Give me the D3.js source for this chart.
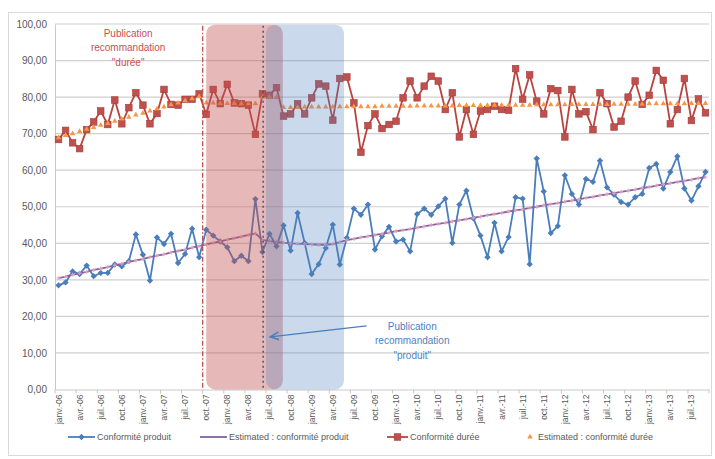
<!DOCTYPE html>
<html>
<head>
<meta charset="utf-8">
<script src="https://cdn.jsdelivr.net/npm/d3@7"></script>
<style>
  body { margin: 0; background: #fff; }
  svg { font-family: "Liberation Sans", Arial, sans-serif; }
</style>
</head>
<body>
<div id="chart"></div>
<script>
// month labels (Excel french short format)
var monthNames = ["janv.", "févr.", "mars", "avr.", "mai", "juin", "juil.", "août", "sept.", "oct.", "nov.", "déc."];
var years = ["06", "07", "08", "09", "10", "11", "12", "13"];
var categories = [];
years.forEach(function (y) {
    monthNames.forEach(function (m) { categories.push(m + "-" + y); });
});
categories = categories.slice(0, 93); // janv.-06 .. sept.-13

var yTicks = [0, 10, 20, 30, 40, 50, 60, 70, 80, 90, 100];

var produit = [28.5, 29.3, 32.3, 31.6, 33.9, 31.0, 31.9, 31.9, 34.2, 33.7,
    35.1, 42.4, 36.9, 29.8, 41.6, 39.8, 42.6, 34.6, 37.1, 44.0,
    36.2, 43.7, 42.1, 40.5, 38.9, 35.1, 36.6, 35.1, 52.1, 37.6,
    42.6, 39.2, 44.9, 38.0, 48.3, 40.1, 31.6, 34.3, 38.7, 45.1,
    34.2, 41.5, 49.5, 47.8, 50.6, 38.3, 41.9, 44.5, 40.5, 41.0,
    37.8, 48.0, 49.5, 47.8, 50.1, 52.2, 40.1, 50.6, 54.4, 46.8,
    42.1, 36.2, 45.6, 37.8, 41.7, 52.6, 52.2, 34.3, 63.2, 54.2,
    42.8, 44.7, 58.6, 53.5, 50.6, 57.6, 56.8, 62.6, 55.3, 53.3,
    51.3, 50.6, 52.6, 53.5, 60.6, 61.7, 55.0, 59.5, 63.8, 55.0,
    51.7, 55.6, 59.5];

var estProduit = [30.5, 30.9, 31.4, 31.8, 32.2, 32.7, 33.1, 33.5, 34.0, 34.4,
    34.9, 35.3, 35.7, 36.2, 36.6, 37.0, 37.5, 37.9, 38.3, 38.8,
    39.2, 39.7, 40.1, 40.5, 41.0, 41.4, 41.8, 42.3, 42.7, 40.9,
    40.6, 40.4, 40.2, 40.0, 39.9, 39.8, 39.7, 39.6, 39.6, 39.8,
    40.3, 40.9, 41.2, 41.6, 41.9, 42.3, 42.6, 42.9, 43.3, 43.6,
    43.9, 44.3, 44.6, 45.0, 45.3, 45.6, 46.0, 46.3, 46.6, 47.0,
    47.3, 47.7, 48.0, 48.3, 48.7, 49.0, 49.3, 49.7, 50.0, 50.4,
    50.7, 51.0, 51.4, 51.7, 52.0, 52.4, 52.7, 53.1, 53.4, 53.7,
    54.1, 54.4, 54.7, 55.1, 55.4, 55.8, 56.1, 56.4, 56.8, 57.1,
    57.4, 57.8, 58.1];

var duree = [68.4, 70.9, 67.5, 65.9, 71.1, 73.2, 76.2, 72.5, 79.2, 72.7,
    77.1, 81.2, 77.8, 72.7, 75.5, 82.1, 78.0, 77.8, 79.4, 79.4,
    80.9, 75.3, 82.1, 78.2, 83.5, 78.4, 78.2, 77.8, 69.8, 80.9,
    80.5, 82.6, 74.8, 75.4, 78.2, 75.4, 79.8, 83.6, 83.0, 73.7,
    85.1, 85.5, 78.4, 64.9, 72.2, 75.4, 71.4, 72.5, 73.4, 79.8,
    84.4, 79.8, 83.0, 85.7, 84.4, 76.6, 81.2, 69.1, 76.6, 69.8,
    76.2, 76.6, 77.5, 76.6, 76.4, 87.8, 79.4, 86.1, 78.9, 75.4,
    82.3, 81.8, 69.1, 82.1, 75.4, 76.0, 71.1, 81.2, 78.2, 71.8,
    73.4, 80.0, 84.4, 78.0, 80.5, 87.3, 84.6, 72.7, 76.6, 85.1,
    73.6, 79.5, 75.7];

var estDuree = [68.9, 69.5, 70.0, 70.6, 71.2, 71.7, 72.3, 72.8, 73.4, 74.0,
    74.5, 75.1, 75.6, 76.2, 76.8, 77.3, 77.9, 78.4, 79.0, 79.6,
    80.1, 78.4, 78.4, 78.3, 78.3, 78.3, 78.2, 78.2, 78.2, 80.0,
    80.0, 79.9, 77.2, 77.2, 77.2, 77.3, 77.3, 77.3, 77.3, 77.3,
    77.4, 77.4, 77.4, 77.4, 77.4, 77.4, 77.5, 77.5, 77.5, 77.5,
    77.5, 77.6, 77.6, 77.6, 77.6, 77.6, 77.6, 77.7, 77.7, 77.7,
    77.7, 77.7, 77.8, 77.8, 77.8, 77.8, 77.8, 77.8, 77.9, 77.9,
    77.9, 77.9, 77.9, 78.0, 78.0, 78.0, 78.0, 78.0, 78.0, 78.1,
    78.1, 78.1, 78.1, 78.1, 78.2, 78.2, 78.2, 78.2, 78.2, 78.2,
    78.3, 78.3, 78.3];

var legendNames = ["Conformité produit", "Estimated : conformité produit", "Conformité durée", "Estimated : conformité durée"];

var W = 715, H = 459;
var margin = { top: 24, right: 6, bottom: 69.5, left: 55 };
var width = W - margin.left - margin.right,
    height = H - margin.top - margin.bottom;

var svg = d3.select("#chart")
    .append("svg")
    .attr("width", W)
    .attr("height", H);

// chart frame
svg.append("rect")
    .attr("x", 8.5).attr("y", 12.5)
    .attr("width", 703).attr("height", 443)
    .attr("fill", "none")
    .attr("stroke", "#d9d9d9");

var g = svg.append("g")
    .attr("transform", "translate(" + margin.left + "," + margin.top + ")");

var x = d3.scaleBand()
    .domain(categories)
    .range([0, width])
    .padding(0);
// continuous helper on the same axis (month index) for annotations
var xi = d3.scaleLinear()
    .domain([0, categories.length])
    .range([0, width]);
var cx = function (i) { return x(categories[i]) + x.bandwidth() / 2; };

var y = d3.scaleLinear()
    .domain([0, 100])
    .range([height, 0]);

// gridlines
g.append("g")
    .selectAll("line")
    .data(yTicks.filter(function (d) { return d > 0; }))
    .enter()
    .append("line")
    .attr("x1", 0).attr("x2", width)
    .attr("y1", function (d) { return y(d); })
    .attr("y2", function (d) { return y(d); })
    .attr("stroke", "#d0d0d0")
    .attr("stroke-width", 1.2);

// Y axis
var yAxis = g.append("g")
    .call(d3.axisLeft(y).tickValues(yTicks).tickSize(0).tickPadding(8)
        .tickFormat(function (d) { return d3.format(".2f")(d).replace(".", ","); }));
yAxis.select(".domain").attr("stroke", "#c8c8c8");
yAxis.selectAll("text").attr("font-size", 10).attr("fill", "#595959")
    .attr("font-family", "Liberation Sans, Arial, sans-serif");

// X axis
var xAxis = g.append("g")
    .attr("transform", "translate(0," + height + ")")
    .call(d3.axisBottom(x)
        .tickValues(categories.filter(function (d, i) { return i % 3 === 0; }))
        .tickSize(0).tickPadding(0));
xAxis.select(".domain").attr("stroke", "#c8c8c8");
xAxis.selectAll("text")
    .attr("font-size", 8.5)
    .attr("fill", "#595959")
    .attr("font-family", "Liberation Sans, Arial, sans-serif")
    .attr("text-anchor", "end")
    .attr("transform", "translate(0,5) rotate(-90)")
    .attr("x", 0).attr("y", 0).attr("dy", "0.35em");
// small tick marks on the category boundaries
g.append("g")
    .selectAll("line")
    .data(d3.range(0, categories.length + 1, 3))
    .enter()
    .append("line")
    .attr("x1", function (d) { return xi(d); })
    .attr("x2", function (d) { return xi(d); })
    .attr("y1", height).attr("y2", height + 4)
    .attr("stroke", "#c8c8c8");

// line series
var lineOf = function (arr) {
    return d3.line()
        .x(function (d, i) { return cx(i); })
        .y(function (d) { return y(d); })(arr);
};

// Conformité produit
g.append("path")
    .attr("d", lineOf(produit))
    .attr("fill", "none")
    .attr("stroke", "#4a7ebb")
    .attr("stroke-width", 1.8);
g.append("g")
    .selectAll("path")
    .data(produit)
    .enter()
    .append("path")
    .attr("d", d3.symbol(d3.symbolSquare, 20))
    .attr("transform", function (d, i) { return "translate(" + cx(i) + "," + y(d) + ") rotate(45)"; })
    .attr("fill", "#4a7ebb");

// Estimated : conformité produit
g.append("path")
    .attr("d", lineOf(estProduit))
    .attr("fill", "none")
    .attr("stroke", "#8064a2")
    .attr("stroke-width", 1.8);
g.append("g")
    .selectAll("path")
    .data(estProduit)
    .enter()
    .append("path")
    .attr("d", d3.symbol(d3.symbolCross, 9))
    .attr("transform", function (d, i) { return "translate(" + cx(i) + "," + y(d) + ")"; })
    .attr("fill", "#f0a8c4")
    .attr("opacity", 0.8);

// Conformité durée
g.append("path")
    .attr("d", lineOf(duree))
    .attr("fill", "none")
    .attr("stroke", "#b8433f")
    .attr("stroke-width", 1.8);
g.append("g")
    .selectAll("rect")
    .data(duree)
    .enter()
    .append("rect")
    .attr("x", function (d, i) { return cx(i) - 3.3; })
    .attr("y", function (d) { return y(d) - 3.3; })
    .attr("width", 6.6).attr("height", 6.6)
    .attr("fill", "#c0504d")
    .attr("stroke", "#a23d3a")
    .attr("stroke-width", 0.6);

// Estimated : conformité durée (markers only)
g.append("g")
    .selectAll("path")
    .data(estDuree)
    .enter()
    .append("path")
    .attr("d", d3.symbol(d3.symbolTriangle, 13))
    .attr("transform", function (d, i) { return "translate(" + cx(i) + "," + y(d) + ")"; })
    .attr("fill", "#f79646");

// shaded periods
g.append("rect")
    .attr("x", xi(21.5)).attr("y", y(99.8))
    .attr("width", xi(32.4) - xi(21.5))
    .attr("height", y(0) - y(99.8))
    .attr("rx", 9)
    .attr("fill", "#c0504d")
    .attr("fill-opacity", 0.4);
g.append("rect")
    .attr("x", xi(30.0)).attr("y", y(99.8))
    .attr("width", xi(41.1) - xi(30.0))
    .attr("height", y(0) - y(99.8))
    .attr("rx", 9)
    .attr("fill", "#4f81bd")
    .attr("fill-opacity", 0.3);

// publication dates
g.append("line")
    .attr("x1", xi(21)).attr("x2", xi(21))
    .attr("y1", y(99.5)).attr("y2", y(0))
    .attr("stroke", "#c0504d")
    .attr("stroke-width", 1.3)
    .attr("stroke-dasharray", "5,2,1.5,2");
g.append("line")
    .attr("x1", xi(29.6)).attr("x2", xi(29.6))
    .attr("y1", y(99.5)).attr("y2", y(0))
    .attr("stroke", "#44557f")
    .attr("stroke-width", 1.5)
    .attr("stroke-dasharray", "2,3");

// annotations
var noteDuree = ["Publication", "recommandation", "\"durée\""];
var noteProduit = ["Publication", "recommandation", "\"produit\""];

g.append("text")
    .attr("x", xi(10.4)).attr("y", y(96.5))
    .attr("text-anchor", "middle")
    .attr("font-size", 10)
    .attr("fill", "#c9504d")
    .selectAll("tspan")
    .data(noteDuree)
    .enter()
    .append("tspan")
    .attr("x", xi(10.4))
    .attr("dy", function (d, i) { return i === 0 ? 0 : 14.5; })
    .text(function (d) { return d; });

g.append("text")
    .attr("x", xi(50.8)).attr("y", y(16.3))
    .attr("text-anchor", "middle")
    .attr("font-size", 10)
    .attr("fill", "#4f81bd")
    .selectAll("tspan")
    .data(noteProduit)
    .enter()
    .append("tspan")
    .attr("x", xi(50.8))
    .attr("dy", function (d, i) { return i === 0 ? 0 : 14.5; })
    .text(function (d) { return d; });

svg.append("defs").append("marker")
    .attr("id", "arrow")
    .attr("viewBox", "0 0 10 10")
    .attr("refX", 9).attr("refY", 5)
    .attr("markerWidth", 7).attr("markerHeight", 7)
    .attr("orient", "auto")
    .append("path")
    .attr("d", "M0,1 L9,5 L0,9")
    .attr("fill", "none")
    .attr("stroke", "#4a7ebb")
    .attr("stroke-width", 1.5);

g.append("line")
    .attr("x1", xi(44.3)).attr("y1", y(17.4))
    .attr("x2", xi(30.6)).attr("y2", y(14.4))
    .attr("stroke", "#4a7ebb")
    .attr("stroke-width", 1.4)
    .attr("marker-end", "url(#arrow)");

// legend
var legend = svg.append("g").attr("transform", "translate(0,437)");
var legX = [68, 200, 387, 524];
var legW = [27, 27, 21, 12];

legendNames.forEach(function (name, i) {
    var lg = legend.append("g").attr("transform", "translate(" + legX[i] + ",0)");
    if (i === 0) {
        lg.append("line").attr("x1", 0).attr("x2", legW[i]).attr("stroke", "#4a7ebb").attr("stroke-width", 1.8);
        lg.append("path").attr("d", d3.symbol(d3.symbolSquare, 20))
            .attr("transform", "translate(" + legW[i] / 2 + ",0) rotate(45)").attr("fill", "#4a7ebb");
    } else if (i === 1) {
        lg.append("line").attr("x1", 0).attr("x2", legW[i]).attr("stroke", "#8064a2").attr("stroke-width", 1.8);
    } else if (i === 2) {
        lg.append("line").attr("x1", 0).attr("x2", legW[i]).attr("stroke", "#b8433f").attr("stroke-width", 1.8);
        lg.append("rect").attr("x", legW[i] / 2 - 3.3).attr("y", -3.3).attr("width", 6.6).attr("height", 6.6)
            .attr("fill", "#c0504d").attr("stroke", "#a23d3a").attr("stroke-width", 0.6);
    } else {
        lg.append("path").attr("d", d3.symbol(d3.symbolTriangle, 13))
            .attr("transform", "translate(" + legW[i] / 2 + ",0)").attr("fill", "#f79646");
    }
    lg.append("text")
        .attr("x", legW[i] + 2)
        .attr("dy", "0.35em")
        .attr("font-size", 9)
        .attr("fill", "#595959")
        .text(name);
});
</script>
</body>
</html>
